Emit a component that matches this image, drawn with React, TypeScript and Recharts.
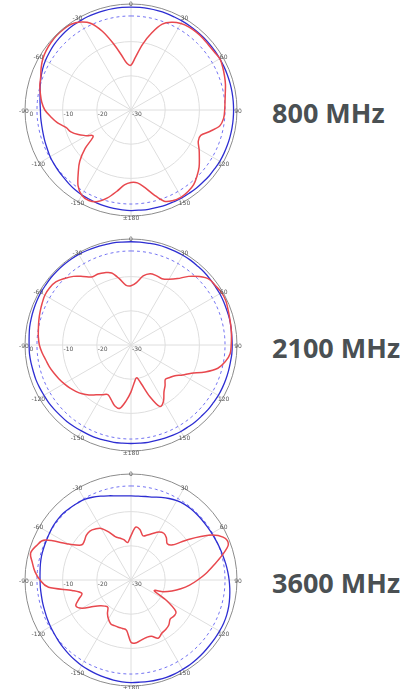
import { RadarChart, Radar, PolarGrid, PolarAngleAxis, PolarRadiusAxis } from 'recharts';

// angle in degrees, clockwise from boresight (top)
const ANGLES = [
  0, 5, 10, 15, 20, 25, 30, 35, 40, 45, 50, 55, 60, 65, 70, 75, 80, 85,
  90, 95, 100, 105, 110, 115, 120, 125, 130, 135, 140, 145, 150, 155, 160, 165, 170, 175,
  180, 185, 190, 195, 200, 205, 210, 215, 220, 225, 230, 235, 240, 245, 250, 255, 260, 265,
  270, 275, 280, 285, 290, 295, 300, 305, 310, 315, 320, 325, 330, 335, 340, 345, 350, 355,
];

const RED_800 = [
  -16.9, -14.4, -10.5, -6.7, -3.3, -1.7, -0.8, -0.4, -0.3, -0.3, -0.4, -0.3, 0.0, -0.4, -0.9, -1.4, -2.0, -2.4,
  -2.6, -2.8, -3.6, -6.0, -8.3, -8.3, -7.0, -5.6, -4.0, -2.7, -1.5, -0.9, -0.6, -0.8, -1.6, -4.4, -7.0, -8.6,
  -8.8, -8.0, -5.8, -3.4, -1.5, -0.8, -1.2, -3.0, -6.0, -8.8, -12.5, -16.5, -15.0, -13.0, -11.3, -10.3, -8.2, -6.5,
  -4.8, -3.8, -3.1, -2.4, -1.9, -1.0, -0.2, 0.3, 0.6, 0.8, 0.8, 0.6, -0.3, -2.0, -5.5, -9.8, -13.6, -16.3,
];
const BLUE_800 = [
  0.1, 0.1, 0.1, 0.1, 0.1, 0.0, 0.0, 0.0, 0.0, 0.0, 0.0, 0.0, 0.0, 0.0, 0.0, 0.0, 0.0, 0.0,
  0.0, 0.0, 0.0, 0.0, 0.0, 0.0, 0.0, -0.1, -0.1, -0.2, -0.2, -0.3, -0.3, -0.4, -0.4, -0.5, -0.5, -0.6,
  -0.6, -0.7, -0.8, -0.9, -1.0, -1.2, -1.3, -1.5, -1.8, -2.1, -2.3, -2.5, -2.7, -3.0, -3.2, -3.4, -3.5, -3.5,
  -3.5, -3.3, -3.0, -2.5, -2.0, -1.5, -1.1, -0.8, -0.5, -0.3, -0.1, 0.0, 0.0, 0.1, 0.1, 0.1, 0.1, 0.1,
];

const RED_2100 = [
  -12.7, -11.7, -9.5, -8.4, -8.4, -8.6, -7.8, -6.3, -3.8, -1.7, -0.1, 0.2, 0.6, 0.6, 0.2, -0.1, -0.3, -0.5,
  -0.7, -0.9, -2.0, -3.7, -6.9, -10.5, -12.5, -14.3, -15.2, -15.8, -14.5, -13.2, -11.0, -10.2, -14.0, -18.2, -20.3, -19.0,
  -16.3, -13.6, -11.2, -11.6, -13.0, -14.0, -13.2, -12.2, -10.9, -9.8, -8.9, -8.1, -7.4, -6.7, -6.0, -5.3, -4.7, -3.9,
  -3.2, -2.8, -2.5, -2.1, -1.7, -1.3, -0.9, -0.9, -1.3, -2.5, -3.8, -5.5, -7.0, -7.1, -7.5, -8.2, -10.3, -12.4,
];
const BLUE_2100 = [
  0.2, 0.2, 0.2, 0.3, 0.3, 0.3, 0.3, 0.3, 0.2, 0.2, 0.1, 0.0, 0.0, -0.1, -0.2, -0.2, -0.3, -0.4,
  -0.4, -0.4, -0.5, -0.5, -0.5, -0.5, -0.5, -0.6, -0.6, -0.7, -0.7, -0.8, -0.8, -0.9, -1.0, -1.1, -1.1, -1.2,
  -1.2, -1.2, -1.1, -1.1, -1.0, -1.0, -1.0, -0.9, -0.8, -0.8, -0.7, -0.6, -0.6, -0.5, -0.4, -0.4, -0.3, -0.2,
  -0.2, -0.1, 0.1, 0.2, 0.3, 0.4, 0.5, 0.5, 0.6, 0.6, 0.6, 0.6, 0.6, 0.5, 0.4, 0.3, 0.3, 0.2,
];

const RED_3600 = [
  -17.0, -14.5, -15.0, -16.6, -16.0, -15.0, -13.8, -13.3, -13.9, -15.0, -14.0, -9.2, -3.8, -0.3, 0.3, -2.5, -5.5, -8.0,
  -10.5, -12.8, -15.2, -17.6, -20.0, -22.5, -18.0, -14.0, -13.6, -13.8, -12.8, -12.3, -12.0, -11.2, -12.5, -12.6, -12.2, -11.6,
  -11.8, -15.2, -15.6, -15.7, -15.8, -15.9, -16.8, -18.0, -19.5, -19.2, -18.3, -16.5, -13.5, -12.2, -13.8, -15.1, -12.5, -5.8,
  -3.4, -1.8, -0.7, 0.4, -0.6, -2.4, -9.0, -12.2, -12.2, -11.5, -11.3, -11.8, -12.6, -14.5, -16.5, -17.3, -18.0, -19.0,
];
const BLUE_3600 = [
  -5.4, -5.4, -5.2, -4.9, -4.3, -3.7, -3.2, -2.9, -2.8, -2.8, -2.8, -2.8, -2.7, -2.6, -2.4, -2.2, -1.9, -1.6,
  -1.3, -1.0, -0.7, -0.4, -0.2, -0.1, -0.1, -0.1, -0.1, 0.0, 0.1, 0.2, 0.2, 0.3, 0.3, 0.2, 0.1, 0.0,
  0.0, -0.1, -0.3, -0.5, -0.7, -0.9, -1.1, -1.4, -1.7, -2.0, -2.3, -2.6, -2.8, -3.0, -3.2, -3.3, -3.4, -3.4,
  -3.4, -3.3, -3.1, -2.9, -2.8, -2.7, -2.5, -2.3, -2.2, -2.2, -2.4, -2.6, -2.8, -3.3, -3.9, -4.5, -5.0, -5.3,
];

const REF_LEVEL = -2.5; // dashed -3dB-ish reference contour
const RADIUS_TICKS = [-30, -20, -10, 0];
const GRID_RINGS = [-20, -10];
const SPOKES = [0, 30, 60, 90, 120, 150, 180, 210, 240, 270, 300, 330];
const DB_MIN = -30;
const DB_MAX = 1;

const FREQS = [
  { label: '800 MHz', red: RED_800, blue: BLUE_800 },
  { label: '2100 MHz', red: RED_2100, blue: BLUE_2100 },
  { label: '3600 MHz', red: RED_3600, blue: BLUE_3600 },
];

const OUTER = 106;
const CX = 131;
const CY = 110;
const PITCH = 235;

const ringRadius = (db: number) => ((db - DB_MIN) / (DB_MAX - DB_MIN)) * OUTER;

const angleLabel = (deg: number) => {
  if (deg === 180) return '\u00b1180';
  return deg > 180 ? String(deg - 360) : String(deg);
};

// closed catmull-rom through the radar points
const smoothClosed = (pts: { x: number; y: number }[]) => {
  const n = pts.length;
  if (!n) return '';
  let d = `M${pts[0].x},${pts[0].y}`;
  for (let i = 0; i < n; i++) {
    const p0 = pts[(i - 1 + n) % n];
    const p1 = pts[i];
    const p2 = pts[(i + 1) % n];
    const p3 = pts[(i + 2) % n];
    const c1x = p1.x + (p2.x - p0.x) / 6;
    const c1y = p1.y + (p2.y - p0.y) / 6;
    const c2x = p2.x - (p3.x - p1.x) / 6;
    const c2y = p2.y - (p3.y - p1.y) / 6;
    d += ` C${c1x},${c1y} ${c2x},${c2y} ${p2.x},${p2.y}`;
  }
  return d + 'Z';
};

const curve = (color: string, width: number, dash?: string) => (props: any) => (
  <path
    d={smoothClosed(props.points || [])}
    fill="none"
    stroke={color}
    strokeWidth={width}
    strokeDasharray={dash}
  />
);

const AngleTick = (props: any) => {
  const { x, y, payload } = props;
  const deg = Number(payload.value);
  if (deg % 30 !== 0) return <g />;
  return (
    <text x={x} y={y} textAnchor="middle" dominantBaseline="central" fontSize={6} fill="#555" fontFamily="DejaVu Sans">
      {angleLabel(deg)}
    </text>
  );
};

const RadiusTick = (props: any) => {
  const { x, y, payload } = props;
  return (
    <text x={x + 1} y={y + 6} textAnchor="start" fontSize={6} fill="#555" fontFamily="DejaVu Sans">
      {payload.value}
    </text>
  );
};

const PatternChart = ({ red, blue }: { red: number[]; blue: number[] }) => {
  const rows = ANGLES.map((deg, i) => ({ deg, red: red[i], blue: blue[i], ref: REF_LEVEL }));
  return (
    <RadarChart
      width={262}
      height={226}
      cx={CX}
      cy={CY}
      outerRadius={OUTER}
      data={rows}
      margin={{ top: 0, right: 0, bottom: 0, left: 0 }}
    >
      <PolarGrid
        gridType="circle"
        stroke="#dedede"
        polarRadius={GRID_RINGS.map(ringRadius)}
        polarAngles={SPOKES.map((a) => 90 - a)}
      />
      <PolarAngleAxis
        dataKey="deg"
        tick={AngleTick}
        tickLine={false}
        tickSize={1}
        axisLineType="circle"
        axisLine={{ stroke: '#8c8c8c', strokeWidth: 1 }}
      />
      <PolarRadiusAxis
        angle={180}
        type="number"
        domain={[DB_MIN, DB_MAX]}
        ticks={RADIUS_TICKS}
        allowDataOverflow
        axisLine={false}
        tickLine={false}
        tick={RadiusTick}
      />
      <Radar dataKey="ref" isAnimationActive={false} dot={false} shape={curve('#7373f2', 1, '3 3')} />
      <Radar dataKey="blue" isAnimationActive={false} dot={false} shape={curve('#2d2dd2', 1.3)} />
      <Radar dataKey="red" isAnimationActive={false} dot={false} shape={curve('#e8484e', 1.5)} />
    </RadarChart>
  );
};

export default function App() {
  return (
    <div style={{ position: 'absolute', left: 0, top: 0, width: 418, height: 689, background: '#fff', overflow: 'hidden' }}>
      {FREQS.map((f, i) => (
        <div key={f.label}>
          <div style={{ position: 'absolute', left: 0, top: i * PITCH, willChange: 'transform' }}>
            <PatternChart red={f.red} blue={f.blue} />
          </div>
          <div
            style={{
              position: 'absolute',
              left: 272,
              top: CY + i * PITCH - 11,
              fontFamily: '"Open Sans", sans-serif',
              fontWeight: 700,
              fontSize: 27,
              lineHeight: '27px',
              color: '#4a5053',
              whiteSpace: 'nowrap',
            }}
          >
            {f.label}
          </div>
        </div>
      ))}
    </div>
  );
}
